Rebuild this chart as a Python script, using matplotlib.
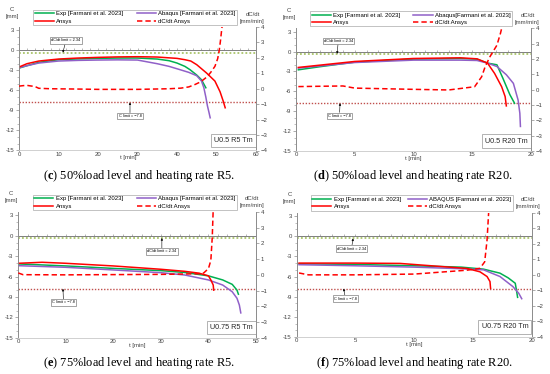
import matplotlib
matplotlib.use("Agg")
import matplotlib.pyplot as plt
from matplotlib.ticker import MultipleLocator

plt.rcParams['font.family'] = ['Liberation Sans', 'DejaVu Sans']
plt.rcParams['mathtext.fontset'] = 'custom'
plt.rcParams['mathtext.rm'] = 'Liberation Serif'
plt.rcParams['mathtext.bf'] = 'Liberation Serif:bold'

# ---------------- data: panel (c) U0.5 R5 ----------------
c_t_exp = [0, 2, 5, 10, 15, 20, 25, 30, 35, 38, 40, 42, 43.3, 45, 46.2, 47.3]
c_exp = [-2.66, -2.3, -1.8, -1.4, -1.28, -1.2, -1.15, -1.15, -1.3, -1.55, -1.9, -2.4, -2.9, -3.7, -4.4, -5.6]
c_t_abq = [0, 2, 5, 10, 15, 20, 25, 30, 35, 38, 40.8, 43, 45, 46.2, 46.8, 47.3, 47.7, 48.1, 48.4]
c_abq = [-2.6, -2.3, -1.9, -1.6, -1.5, -1.45, -1.42, -1.45, -2.0, -2.4, -2.9, -3.3, -3.8, -4.6, -5.6, -7.0, -8.3, -9.3, -10.1]
c_t_ans = [0, 2, 5, 10, 15, 20, 25, 30, 35, 40, 42, 43.5, 45, 47.5, 49.6, 50.9, 51.7, 52.2]
c_ans = [-2.5, -2.0, -1.6, -1.3, -1.15, -1.05, -0.98, -0.95, -1.0, -1.2, -1.4, -1.6, -2.15, -3.4, -4.6, -6.2, -7.6, -8.6]
c_t_rate = [0, 1, 2, 3, 4, 5, 8, 15, 20, 30, 38, 41, 43, 44.6, 46, 47.5, 48.5, 49.6, 50.3, 50.7, 51.0, 51.3, 51.6]
c_rate = [0.17, 0.2, 0.22, 0.18, 0.15, 0.03, 0.0, -0.02, -0.04, -0.04, 0.0, 0.04, 0.12, 0.28, 0.45, 0.75, 1.05, 1.45, 1.95, 2.5, 3.1, 3.8, 4.4]

# ---------------- data: panel (d) U0.5 R20 ----------------
d_t_exp = [0.2, 2, 5, 8.8, 10, 14, 15.4, 16.3, 17.1, 17.6, 18.2, 18.6]
d_exp = [-2.76, -2.3, -1.6, -1.25, -1.15, -1.05, -1.15, -1.75, -2.0, -4.0, -6.5, -7.8]
d_t_abq = [0.2, 5, 10, 14, 15.4, 16.3, 17.1, 17.9, 18.5, 18.9, 19.05, 19.1]
d_abq = [-2.5, -1.66, -1.3, -1.3, -1.35, -1.75, -2.26, -3.5, -4.8, -7.3, -9.3, -11.3]
d_t_ans = [0.2, 5, 10, 14, 15.4, 16.3, 16.9, 17.5, 17.8, 17.9]
d_ans = [-2.4, -1.5, -1.05, -0.95, -1.1, -1.75, -3.3, -5.3, -6.8, -8.2]
d_t_rate = [0.2, 2, 4, 5, 10, 13, 15.2, 15.8, 16.1, 16.5, 17.1, 17.4, 17.6]
d_rate = [0.2, 0.22, 0.24, 0.1, 0.02, -0.02, 0.19, 0.84, 1.5, 2.14, 2.9, 3.67, 4.3]

# ---------------- data: panel (e) U0.75 R5 ----------------
e_t_exp = [0, 10, 20, 30, 35, 40, 43, 45, 46, 46.3]
e_exp = [-4.14, -4.44, -4.8, -5.13, -5.4, -5.9, -6.5, -7.15, -8.0, -8.6]
e_t_abq = [0, 10, 20, 30, 35, 40, 43, 45, 46, 46.5, 46.8]
e_abq = [-4.4, -4.64, -5.03, -5.43, -5.77, -6.5, -7.25, -8.24, -9.2, -10.2, -11.35]
e_t_ans = [0, 5, 10, 20, 30, 35, 38, 40, 40.5, 41, 41.1]
e_ans = [-4.05, -3.9, -4.05, -4.44, -4.93, -5.23, -5.5, -5.9, -6.5, -7.25, -8.0]
e_t_rate = [0, 1, 10, 30, 38, 39, 40, 40.5, 40.8, 41]
e_rate = [0.12, 0.01, 0.0, 0.03, 0.07, 0.12, 0.4, 0.92, 2.4, 4.2]

# ---------------- data: panel (f) U0.75 R20 ----------------
f_t_exp = [0.2, 5, 10, 14, 15.9, 17.3, 18.0, 18.6, 18.7, 18.8]
f_exp = [-4.1, -4.2, -4.4, -4.6, -4.9, -5.5, -6.2, -7.0, -8.0, -9.1]
f_t_abq = [0.2, 5, 10, 14, 15.9, 17.3, 18.4, 18.9, 19.15]
f_abq = [-4.24, -4.4, -4.6, -4.84, -5.0, -6.0, -7.5, -8.5, -9.3]
f_t_ans = [0.2, 5, 8.8, 14.5, 15.6, 16.2, 16.45, 16.5]
f_ans = [-4.0, -4.0, -4.05, -4.8, -5.3, -6.0, -6.75, -7.75]
f_t_rate = [0.2, 1, 5, 10, 14.5, 15.6, 16.0, 16.2, 16.35]
f_rate = [0.12, 0.0, 0.0, 0.05, 0.3, 0.42, 0.84, 2.24, 4.2]

C_LIMIT = -7.8
RATE_LIMIT = 2.34

GREEN = '#00b050'
PURPLE = '#9060c8'
RED = '#ff0000'

W, H = 550, 374
fig = plt.figure(figsize=(W / 100, H / 100), dpi=100)

tag_label = {'c': 'U0.5 R5 Tm', 'd': 'U0.5 R20 Tm', 'e': 'U0.75 R5 Tm', 'f': 'U0.75 R20 Tm'}


def rect(left, right, top, bottom):
    return [left / W, 1 - bottom / H, (right - left) / W, (bottom - top) / H]


def panel(r, xmax, xstep, xminor, data, abq_label, tag, cap_rest,
          rate_box, c_box, cap_xy):
    (te, ce), (ta, ca), (tn, cn), (tr, vr) = data
    ax = fig.add_axes(r)
    ax2 = ax.twinx()
    ax.set_xlim(0, xmax)
    ax.set_ylim(-15, 3.5)
    ax2.set_ylim(-4, 4)
    for a in (ax, ax2):
        a.spines['top'].set_visible(False)
        a.spines['bottom'].set_color('#d0d0d0')
        a.spines['bottom'].set_linewidth(0.6)
        a.spines['left'].set_color('#8c8c8c')
        a.spines['right'].set_color('#8c8c8c')
        a.spines['left'].set_linewidth(0.6)
        a.spines['right'].set_linewidth(0.6)
        a.patch.set_visible(False)
    ax.set_yticks(range(-15, 4, 3))
    ax.yaxis.set_minor_locator(MultipleLocator(1))
    ax2.set_yticks(range(-4, 5, 1))
    ax.set_xticks(range(0, xmax + 1, xstep))
    ax.tick_params(axis='x', length=0, pad=0.8, labelsize=4.3, labelcolor='#404040')
    ax.tick_params(axis='y', which='major', length=2, width=0.5, pad=1.5,
                   labelsize=4.3, labelcolor='#404040', color='#8c8c8c')
    ax.tick_params(axis='y', which='minor', length=1.2, width=0.4, color='#8c8c8c')
    ax2.tick_params(axis='y', length=2, width=0.5, pad=1.5, labelsize=4.3,
                    labelcolor='#404040', color='#8c8c8c')
    ax.set_yticklabels([str(v) for v in range(-15, 4, 3)])

    # horizontal axis line through C = 0 with tick marks
    ax.axhline(0, color='#7f7f7f', lw=0.7, zorder=1)
    sec = ax.secondary_xaxis(15 / 18.5)
    sec.spines['bottom'].set_visible(False)
    sec.spines['top'].set_visible(False)
    sec.set_xticks(range(0, xmax + 1, xminor))
    sec.tick_params(axis='x', direction='in', length=1.5, width=0.4,
                    color='#7f7f7f', labelbottom=False, labeltop=False,
                    top=False, bottom=True)

    # limit lines
    ax.axhline(C_LIMIT, color='#c0504d', lw=1.0, ls=(0, (1, 1.2)), zorder=2)
    ax2.axhline(RATE_LIMIT, color='#a9c46a', lw=1.3, ls=(0, (1, 1.2)), zorder=2)

    h1, = ax.plot(te, ce, color=GREEN, lw=1.1, zorder=4)
    h2, = ax.plot(ta, ca, color=PURPLE, lw=1.1, zorder=4)
    h3, = ax.plot(tn, cn, color=RED, lw=1.1, zorder=5)
    h4, = ax2.plot(tr, vr, color=RED, lw=1.1, ls=(0, (3.5, 2)), zorder=5)

    leg = ax.legend([h1, h3, h2, h4],
                    ['Exp [Farmani et al. 2023]', 'Ansys', abq_label, 'dC/dt Ansys'],
                    ncol=2, loc='lower left', mode='expand',
                    bbox_to_anchor=(0.06, 1.015, 0.86, 0.165),
                    fontsize=4.3, frameon=True, fancybox=False,
                    borderpad=0.25, labelspacing=0.35, handlelength=3.2,
                    handletextpad=0.4, columnspacing=1.0, borderaxespad=0)
    leg.get_frame().set_edgecolor('#a6a6a6')
    leg.get_frame().set_linewidth(0.6)

    # axis titles
    ax.text(-0.03, 1.165, 'C\n[mm]', transform=ax.transAxes, ha='center',
            va='top', fontsize=4.3, color='#404040', linespacing=1.5)
    ax2.text(0.985, 1.125, 'dC/dt\n[mm/min]', transform=ax.transAxes, ha='center',
             va='top', fontsize=4.3, color='#404040', linespacing=1.5)
    ax.text(0.5 if tag != 'c' else 0.46, -0.04, 't [min]', transform=ax.transAxes,
            ha='center', va='top', fontsize=4.3, color='#404040')

    # annotations
    box = dict(boxstyle='square,pad=0.3', fc='white', ec='#7f7f7f', lw=0.5)
    arrow = dict(arrowstyle='-|>', lw=0.4, color='black', mutation_scale=3,
                 shrinkA=0, shrinkB=0)
    (rx_tip, rx_box, ry_box) = rate_box
    ax2.annotate('dC/dt limit = 2.34', xy=(rx_tip, RATE_LIMIT),
                 xytext=(rx_box, ry_box), textcoords=ax.transData,
                 xycoords='data', ha='center', va='center', fontsize=2.8,
                 bbox=box, arrowprops=arrow, zorder=6)
    (cx_tip, cx_box, cy_box) = c_box
    ax.annotate('C limit = \u22127.8', xy=(cx_tip, C_LIMIT),
                xytext=(cx_box, cy_box), ha='center', va='center',
                fontsize=2.8, bbox=box, arrowprops=arrow, zorder=6)

    ax.text(0.985 * xmax, -13.5, tag_label[tag], ha='right', va='center',
            fontsize=5.2, color='#262626',
            bbox=dict(boxstyle='square,pad=0.45', fc='white', ec='#a6a6a6', lw=0.6),
            zorder=6)

    fig.text(cap_xy[0] / W, 1 - cap_xy[1] / H,
             r'($\mathbf{' + tag + r'}$) ' + cap_rest,
             ha='center', va='center', fontsize=8.9, family='Liberation Serif')
    return ax


panel(rect(19, 256, 27, 150.5), 60, 10, 2,
      [(c_t_exp, c_exp), (c_t_abq, c_abq), (c_t_ans, c_ans), (c_t_rate, c_rate)],
      'Abaqus [Farmani et al. 2023]', 'c', '50%load level and heating rate R5.',
      (11.1, 11.9, 1.5), (28.1, 28.1, -9.85), (139, 176))
panel(rect(296, 531, 28.3, 151), 20, 5, 1,
      [(d_t_exp, d_exp), (d_t_abq, d_abq), (d_t_ans, d_ans), (d_t_rate, d_rate)],
      'Abaqus[Farmani et al. 2023]', 'd', '50%load level and heating rate R20.',
      (3.5, 3.6, 1.6), (3.75, 3.7, -9.7), (413, 176))
panel(rect(18.3, 256, 212, 337.7), 50, 10, 2,
      [(e_t_exp, e_exp), (e_t_abq, e_abq), (e_t_ans, e_ans), (e_t_rate, e_rate)],
      'Abaqus [Farmani et al. 2023]', 'e', '75%load level and heating rate R5.',
      (30.2, 30.2, -2.3), (9.4, 9.5, -9.8), (139, 363))
panel(rect(296.7, 531.7, 212.7, 337), 20, 5, 1,
      [(f_t_exp, f_exp), (f_t_abq, f_abq), (f_t_ans, f_ans), (f_t_rate, f_rate)],
      'ABAQUS [Farmani et al. 2023]', 'f', '75%load level and heating rate R20.',
      (4.8, 4.66, -1.83), (4.0, 4.15, -9.27), (414, 363))

fig.savefig('out.png', dpi=100)
